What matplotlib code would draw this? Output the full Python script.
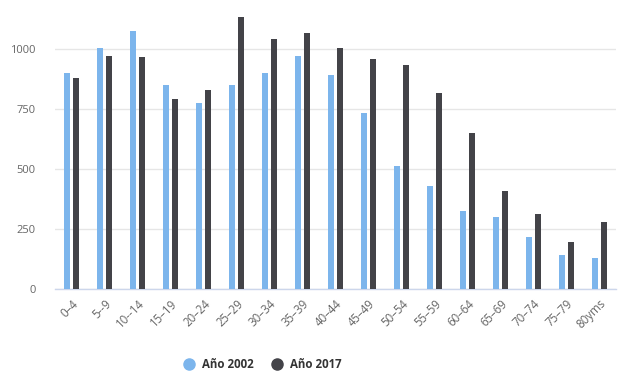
import matplotlib
matplotlib.use("Agg")
import matplotlib.pyplot as plt
import numpy as np
from matplotlib.lines import Line2D

plt.rcParams['font.family'] = ['Open Sans', 'DejaVu Sans']

categories = ["0–4", "5--9", "10--14", "15–19", "20–24", "25–29", "30–34", "35–39",
              "40–44", "45–49", "50–54", "55–59", "60–64", "65–69", "70–74", "75–79", "80yms"]
anio_2002 = [901, 1005, 1076, 849, 775, 849, 901, 971, 892, 731, 514, 431, 326, 300, 218, 143, 131]
anio_2017 = [880, 971, 967, 793, 828, 1133, 1042, 1067, 1005, 958, 932, 818, 649, 410, 314, 196, 279]
yticks = [0, 250, 500, 750, 1000]

c2002 = "#7cb5ec"
c2017 = "#434348"

fig = plt.figure(figsize=(6.27, 3.76), dpi=100)
ax = fig.add_axes([55/627, 1-289/376, (616-55)/627, (289-10)/376])

x = np.arange(len(categories))
w = 0.18
off = 0.15
ax.bar(x - off, anio_2002, width=w, color=c2002, zorder=3)
ax.bar(x + off, anio_2017, width=w, color=c2017, zorder=3)

ax.set_xlim(-0.5, len(categories) - 0.5)
ax.set_ylim(0, 1162)
ax.set_yticks(yticks)
ax.set_yticklabels([str(v) for v in yticks], fontsize=8, color="#666666")
ax.yaxis.grid(True, color="#e6e6e6", linewidth=1, zorder=0)
ax.tick_params(axis='y', length=0, pad=14)
ax.set_xticks(x)
ax.set_xticklabels(categories, rotation=45, ha='right', va='top', rotation_mode='anchor',
                   fontsize=8.3, color="#666666")
ax.tick_params(axis='x', length=0, pad=6)
for s in ['top', 'right', 'left']:
    ax.spines[s].set_visible(False)
ax.spines['bottom'].set_color("#ccd6eb")
ax.spines['bottom'].set_linewidth(1)

handles = [Line2D([], [], marker='o', linestyle='none', markersize=8, color=c2002),
           Line2D([], [], marker='o', linestyle='none', markersize=8, color=c2017)]
fig.legend(handles, ["Año 2002", "Año 2017"], loc='center', bbox_to_anchor=(0.414, 1-365/376),
           ncol=2, frameon=False, prop={'weight': 'bold', 'size': 8.3}, handletextpad=0.1,
           columnspacing=1.0, labelcolor="#333333")

fig.savefig("out.png", dpi=100)
